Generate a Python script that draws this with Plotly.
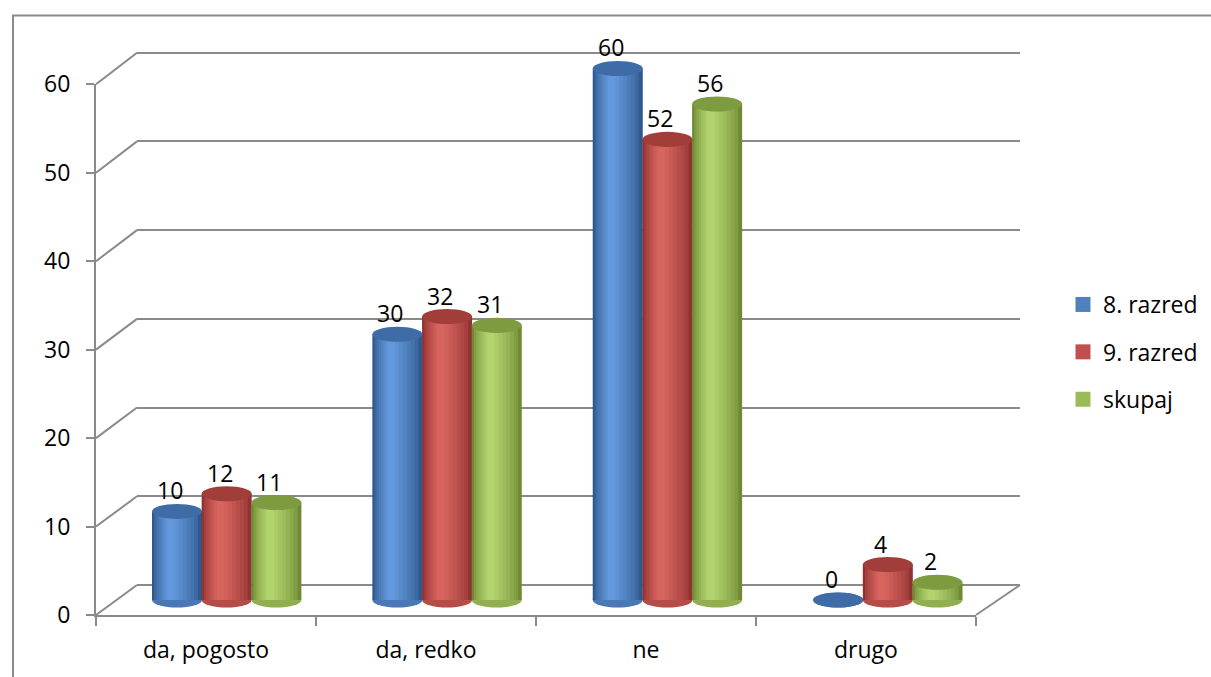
import plotly.graph_objects as go

# data
categories = ['da, pogosto', 'da, redko', 'ne', 'drugo']
series_names = ['8. razred', '9. razred', 'skupaj']
razred8 = [10, 30, 60, 0]
razred9 = [12, 32, 52, 4]
skupaj = [11, 31, 56, 2]
y_ticks = [0, 10, 20, 30, 40, 50, 60]
y_max = 60

W, H = 1211, 677
def fx(p):
    return p / W
def fy(p):
    return 1 - p / H

# front wall, back wall and the middle (where the cylinders stand), in pixels
front = dict(x0=96, x1=976, y0=615, y1=84.3)
back = dict(x0=137, x1=1020, y0=585, y1=52.7)
mid = {k: (front[k] + back[k]) / 2 for k in front}

def padded(wall, pad):
    # y domain + range with some room below 0 and above the max, same scale
    s = (wall['y0'] - wall['y1']) / y_max
    return [fy(wall['y0'] + pad * s), fy(wall['y1'] - pad * s)], [-pad, y_max + pad]

grey = '#8a8a8a'
font = dict(family='Open Sans', size=23, color='black')

legend_colors = ['#4f81bd', '#c0504d', '#9bbb59']
edge_colors = ['#2f588c', '#913331', '#708a34']
light_colors = ['#6399dc', '#d8645f', '#b2d46e']
tops = ['#3f6ca7', '#a23e3a', '#7e9b3f']

def mix(c1, c2, t):
    a = [int(c1[i:i + 2], 16) for i in (1, 3, 5)]
    b = [int(c2[i:i + 2], 16) for i in (1, 3, 5)]
    return '#' + ''.join('%02x' % round(x + (y - x) * t) for x, y in zip(a, b))

n_layers = 8
values = [razred8, razred9, skupaj]
gap = 0.2255
bw = 0.227
eh = 0.85  # half height of the cylinder ends, in y units

fig = go.Figure()
# empty traces so every subplot exists
fig.add_trace(go.Scatter(x=[None], y=[None], xaxis='x', yaxis='y', showlegend=False, hoverinfo='skip'))

shapes = []
annotations = []
for k, name in enumerate(series_names):
    pos = [i + 0.5 + (k - 1) * gap for i in range(len(categories))]
    # legend entry only (bigger square than the bar legend symbol)
    fig.add_trace(go.Scatter(x=[None], y=[None], mode='markers', name=name, legendgroup=name,
                             marker=dict(symbol='square', size=15, color=legend_colors[k], line=dict(width=0)),
                             xaxis='x2', yaxis='y2', hoverinfo='skip'))
    # stacked narrower and lighter layers give the round look
    for j in range(n_layers):
        t = j / (n_layers - 1)
        share = 1.0 - 0.85 * t
        shift = -0.12 * t
        fig.add_trace(go.Bar(
            x=[p + shift * bw for p in pos], y=values[k], width=bw * share,
            marker=dict(color=mix(edge_colors[k], light_colors[k], t ** 0.7), line=dict(width=0)),
            name=name, legendgroup=name, showlegend=False,
            xaxis='x2', yaxis='y2', hoverinfo='skip'))
    for p, v in zip(pos, values[k]):
        shapes.append(dict(type='circle', xref='x2', yref='y2', x0=p - bw / 2, x1=p + bw / 2,
                           y0=-eh, y1=eh, fillcolor=mix(edge_colors[k], light_colors[k], 0.5),
                           line=dict(width=0), layer='below'))
        shapes.append(dict(type='circle', xref='x2', yref='y2', x0=p - bw / 2, x1=p + bw / 2,
                           y0=v - eh, y1=v + eh, fillcolor=tops[k], line=dict(width=0), layer='above'))
        annotations.append(dict(x=p, y=v, xref='x2', yref='y2', text=str(v), showarrow=False,
                                yshift=21, xshift=-7, font=font))

fig.add_trace(go.Scatter(x=[None], y=[None], xaxis='x3', yaxis='y3', showlegend=False, hoverinfo='skip'))
fig.add_trace(go.Scatter(x=[None], y=[None], xaxis='x4', yaxis='y3', showlegend=False, hoverinfo='skip'))

# side wall lines from each front tick to the back wall
def py_front(v):
    return front['y0'] + (front['y1'] - front['y0']) * v / y_max
def py_back(v):
    return back['y0'] + (back['y1'] - back['y0']) * v / y_max
for v in y_ticks:
    shapes.append(dict(type='line', xref='paper', yref='paper', x0=fx(front['x0']), y0=fy(py_front(v)),
                       x1=fx(back['x0']), y1=fy(py_back(v)), line=dict(color=grey, width=2), layer='below'))
shapes.append(dict(type='line', xref='paper', yref='paper', x0=fx(front['x1']), y0=fy(front['y0']),
                   x1=fx(back['x1']), y1=fy(back['y0']), line=dict(color=grey, width=2), layer='below'))
# outer frame
shapes.append(dict(type='rect', xref='paper', yref='paper', x0=fx(13), y0=-0.05, x1=1.05, y1=fy(15.5),
                   line=dict(color=grey, width=2), layer='below'))

back_dom, back_rng = padded(back, 1)
mid_dom, mid_rng = padded(mid, 3)

fig.update_layout(
    width=W, height=H, autosize=False,
    margin=dict(l=0, r=0, t=0, b=0, pad=0),
    paper_bgcolor='white', plot_bgcolor='rgba(0,0,0,0)',
    barmode='overlay',
    font=font,
    showlegend=True,
    legend=dict(x=fx(1063), y=fy(283), xanchor='left', yanchor='top', font=font,
                tracegroupgap=14.5, bgcolor='rgba(0,0,0,0)', itemsizing='trace'),
    xaxis=dict(domain=[fx(back['x0']), fx(back['x1'])], range=[0, 4], visible=False, anchor='y',
               automargin=False),
    yaxis=dict(domain=back_dom, range=back_rng, anchor='x',
               tickvals=y_ticks, showgrid=True, gridcolor=grey, gridwidth=2, automargin=False,
               showticklabels=False, ticks='', showline=False, zeroline=False),
    xaxis2=dict(domain=[fx(mid['x0']), fx(mid['x1'])], range=[0, 4], visible=False, anchor='y2',
                automargin=False),
    yaxis2=dict(domain=mid_dom, range=mid_rng, visible=False, anchor='x2', automargin=False),
    xaxis3=dict(domain=[fx(front['x0']), fx(front['x1'])], range=[0, 4], anchor='y3',
                tickvals=[0, 1, 2, 3, 4], ticks='outside', ticklen=9, tickwidth=2, tickcolor=grey,
                showticklabels=False, showline=True, linecolor=grey, linewidth=2,
                showgrid=False, zeroline=False, automargin=False),
    xaxis4=dict(overlaying='x3', anchor='y3', range=[0, 4], side='bottom',
                tickvals=[0.5, 1.5, 2.5, 3.5], ticktext=categories, ticks='',
                showline=False, showgrid=False, zeroline=False, tickfont=font,
                ticklabelstandoff=19, automargin=False),
    yaxis3=dict(domain=[fy(front['y0']), fy(front['y1'])], range=[0, y_max], anchor='x3',
                tickvals=y_ticks, ticks='outside', ticklen=8, tickwidth=2, tickcolor=grey,
                showline=True, linecolor=grey, linewidth=2, showgrid=False, zeroline=False,
                tickfont=font, ticklabelstandoff=11, automargin=False),
    shapes=shapes,
    annotations=annotations,
)

fig.write_html('out.html', config={'displayModeBar': False},
               post_script="document.body.style.margin='0px';")
